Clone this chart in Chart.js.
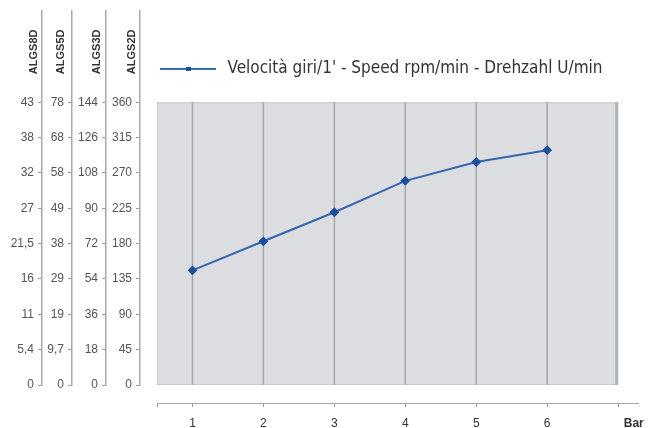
<!DOCTYPE html>
<html>
<head>
<meta charset="utf-8">
<script src="https://cdn.jsdelivr.net/npm/chart.js@4/dist/chart.umd.min.js"></script>
<style>
  body { margin: 0; background: #fff; }
</style>
</head>
<body>
<canvas id="myChart" width="648" height="428"></canvas>
<script>
// pressure (bar) along the bottom
const bars = [1, 2, 3, 4, 5, 6];
// speed, read on the ALGS2D scale
const speed = [146, 183, 220, 260, 284, 299];

// tick labels of the four speed scales, from 0 up
const algs8d = ['0', '5,4', '11', '16', '21,5', '27', '32', '38', '43'];
const algs5d = ['0', '9,7', '19', '29', '38', '49', '58', '68', '78'];
const algs3d = ['0', '18', '36', '54', '72', '90', '108', '126', '144'];
const algs2d = ['0', '45', '90', '135', '180', '225', '270', '315', '360'];

// x ticks: panel start, bars, panel end, unit label
const xTickValues = [0.5, 1, 2, 3, 4, 5, 6, 7, 7.22];
const xTickLabels = ['', '1', '2', '3', '4', '5', '6', '', 'Bar'];

const seriesName = "Velocità giri/1' - Speed rpm/min - Drehzahl U/min";

const yTicks = algs2d.map(Number);
const yMax = 476;          // scale runs on above the panel so the axis lines reach the top
const xMax = 7.28;
const panelX = [0.5, 7];
const panelY = [0, 360];

const lineColor = '#3566b0';
const pointColor = '#1c4e9e';
const tickFont = { family: "'Liberation Sans', Arial, sans-serif", size: 12 };
const titleFont = { family: "'Liberation Sans', Arial, sans-serif", size: 11, weight: 'bold' };

// little line-with-marker used as legend symbol
const legendMark = document.createElement('canvas');
legendMark.width = 56;
legendMark.height = 8;
const g = legendMark.getContext('2d');
g.strokeStyle = lineColor;
g.lineWidth = 2;
g.beginPath(); g.moveTo(0, 4); g.lineTo(56, 4); g.stroke();
g.fillStyle = pointColor;
g.fillRect(26, 2, 5, 4);

function leftAxis(labels, name, weight, width, titlePad) {
    return {
        type: 'linear',
        position: 'left',
        weight: weight,
        min: 0,
        max: yMax,
        afterBuildTicks: s => { s.ticks = yTicks.map(v => ({ value: v })); },
        afterFit: s => { s.width = width; },
        ticks: {
            autoSkip: false,
            callback: (v, i) => labels[i],
            font: tickFont,
            color: '#555',
            padding: 4
        },
        grid: { drawOnChartArea: false, tickLength: 4, color: '#9a9a9a' },
        border: { color: '#a9a9a9', width: 1.5 },
        title: {
            display: true,
            text: name + '      ',
            align: 'end',
            font: titleFont,
            color: '#333',
            padding: { top: titlePad, bottom: 0 }
        }
    };
}

// gray panel with the vertical bar lines
const panel = {
    id: 'panel',
    beforeDatasetsDraw(chart) {
        const { ctx, scales: { x, y2d } } = chart;
        const left = x.getPixelForValue(panelX[0]);
        const right = x.getPixelForValue(panelX[1]);
        const top = y2d.getPixelForValue(panelY[1]);
        const bottom = y2d.getPixelForValue(panelY[0]);
        ctx.save();
        ctx.fillStyle = '#dcdde0';
        ctx.fillRect(left, top, right - left, bottom - top);
        ctx.strokeStyle = '#c9cacc';
        ctx.lineWidth = 1;
        ctx.strokeRect(left + 0.5, top + 0.5, right - left - 1, bottom - top - 1);
        ctx.strokeStyle = '#a4a5a7';
        ctx.lineWidth = 1.5;
        bars.forEach(b => {
            const px = x.getPixelForValue(b);
            ctx.beginPath();
            ctx.moveTo(px, top);
            ctx.lineTo(px, bottom);
            ctx.stroke();
        });
        ctx.strokeStyle = '#b2b3b5';
        ctx.lineWidth = 3;
        ctx.beginPath();
        ctx.moveTo(right - 1.5, top);
        ctx.lineTo(right - 1.5, bottom);
        ctx.stroke();
        ctx.restore();
    }
};

const chart = new Chart(document.getElementById('myChart').getContext('2d'), {
    type: 'line',
    data: {
        datasets: [{
            label: seriesName,
            data: bars.map((b, i) => ({ x: b, y: speed[i] })),
            xAxisID: 'x',
            yAxisID: 'y2d',
            borderColor: lineColor,
            borderWidth: 2,
            pointStyle: 'rectRot',
            pointRadius: 3.5,
            pointBackgroundColor: pointColor,
            pointBorderColor: pointColor,
            tension: 0,
            fill: false
        }]
    },
    options: {
        responsive: false,
        animation: false,
        devicePixelRatio: 1,
        layout: { padding: { left: 0, top: 10, right: 10, bottom: 0 } },
        scales: {
            y8d: leftAxis(algs8d, 'ALGS8D', 5, 42, 27),
            y5d: leftAxis(algs5d, 'ALGS5D', 4, 30, 12),
            y3d: leftAxis(algs3d, 'ALGS3D', 3, 34, 18),
            y2d: leftAxis(algs2d, 'ALGS2D', 2, 34, 19),
            ygap: {
                type: 'linear', position: 'left', weight: 1, min: 0, max: 1,
                ticks: { display: false }, grid: { display: false }, border: { display: false },
                afterFit: s => { s.width = 17; }
            },
            x: {
                type: 'linear',
                position: 'bottom',
                weight: 2,
                min: panelX[0],
                max: xMax,
                afterBuildTicks: s => { s.ticks = xTickValues.map(v => ({ value: v })); },
                afterFit: s => { s.height = 25; s.paddingLeft = 0; s.paddingRight = 0; },
                ticks: {
                    autoSkip: false,
                    maxRotation: 0,
                    callback: (v, i) => xTickLabels[i],
                    font: c => ({ family: tickFont.family, size: 12, weight: c.index === xTickLabels.length - 1 ? 'bold' : 'normal' }),
                    color: '#333',
                    padding: 9
                },
                grid: {
                    drawOnChartArea: false,
                    tickLength: 4,
                    color: c => c.index === xTickLabels.length - 1 ? 'rgba(0,0,0,0)' : '#9a9a9a'
                },
                border: { color: '#aaa', width: 1 }
            },
            xgap: {
                type: 'linear', position: 'bottom', weight: 1, min: 0, max: 1,
                ticks: { display: false }, grid: { display: false }, border: { display: false },
                afterFit: s => { s.height = 18; }
            }
        },
        plugins: {
            tooltip: { enabled: false },
            legend: {
                position: 'chartArea',
                align: 'start',
                title: { display: true, text: '', padding: { top: 46, bottom: 0 } },
                labels: {
                    usePointStyle: true,
                    pointStyle: legendMark,
                    pointStyleWidth: 62,
                    padding: 0,
                    color: '#333',
                    font: { family: "'DejaVu Sans Condensed', 'DejaVu Sans', sans-serif", size: 17 }
                }
            }
        }
    },
    plugins: [panel]
});
</script>
</body>
</html>
